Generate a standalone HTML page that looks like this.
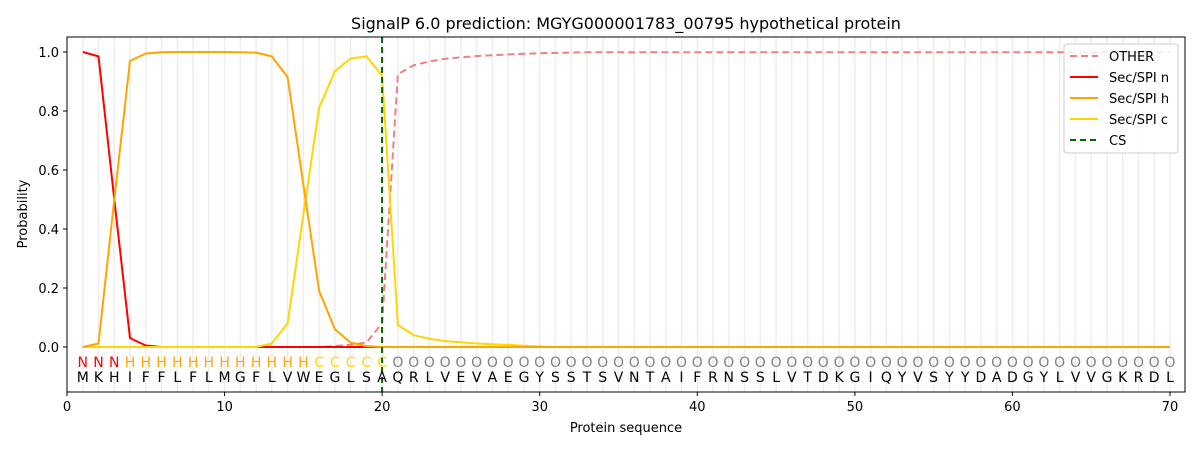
<!DOCTYPE html>
<html><head><meta charset="utf-8"><style>body{margin:0;background:#fff}svg{display:block;font-family:"DejaVu Sans","Liberation Sans",sans-serif}</style></head><body>
<svg width="1200" height="450" viewBox="0 0 1200 450" xmlns="http://www.w3.org/2000/svg">
<rect width="1200" height="450" fill="#fff"/>
<text x="626" y="29" font-size="16" text-anchor="middle" fill="#000">SignalP 6.0 prediction: MGYG000001783_00795 hypothetical protein</text>
<line x1="82.01" x2="1171" y1="214.5" y2="214.5" stroke="#000" stroke-opacity="0.07" stroke-width="355" stroke-dasharray="1.5 14.257"/>
<g fill="none" stroke-width="2" stroke-linejoin="round">
<polyline id="po" stroke="#f08080" stroke-dasharray="7,4" points=""/>
<polyline id="pn" stroke="#ff0000" points=""/>
<polyline id="pc" stroke="#ffd700" points=""/>
<polyline id="ph" stroke="#ffa500" points=""/>
</g>
<script>
(function(){
function X(i){return 67+15.757*i}function Y(p){return 347-295*p}
var n=[1,0.985,0.5,0.03,0.005],h=[0,0.012,0.5,0.97,0.995,0.999,1,1,1,1,0.999,0.998,0.985,0.915,0.55,0.19,0.06,0.015,0.003],
c=[0,0,0,0,0,0,0,0,0,0,0,0,0.012,0.08,0.45,0.81,0.935,0.978,0.985,0.92,0.075,0.04,0.028,0.02,0.016,0.012,0.009,0.007,0.004,0.002],
o=[0,0,0,0,0,0,0,0,0,0,0,0,0,0,0,0,0.003,0.008,0.015,0.08,0.925,0.955,0.968,0.977,0.982,0.986,0.989,0.992,0.994,0.996,0.997,0.998];
function pts(a,d){var s='';for(var i=1;i<=70;i++){var v=i<=a.length?a[i-1]:d;s+=X(i).toFixed(1)+','+Y(v).toFixed(1)+' ';}return s}
document.getElementById('pn').setAttribute('points',pts(n,0));
document.getElementById('ph').setAttribute('points',pts(h,0));
document.getElementById('pc').setAttribute('points',pts(c,0));
document.getElementById('po').setAttribute('points',pts(o,0.999));
})();
</script>
<line x1="382.1" x2="382.1" y1="37" y2="392" stroke="#006400" stroke-width="2" stroke-dasharray="6,4"/>
<rect x="67" y="37" width="1118" height="355" fill="none" stroke="#000" stroke-width="1"/>
<g font-size="13" fill="#000">
<g stroke="#000"><line x1="63" x2="67" y1="347" y2="347"/><line x1="63" x2="67" y1="288" y2="288"/><line x1="63" x2="67" y1="229" y2="229"/><line x1="63" x2="67" y1="170" y2="170"/><line x1="63" x2="67" y1="111" y2="111"/><line x1="63" x2="67" y1="52" y2="52"/>
<line x1="67" x2="67" y1="392" y2="396"/><line x1="224.6" x2="224.6" y1="392" y2="396"/><line x1="382.1" x2="382.1" y1="392" y2="396"/><line x1="539.7" x2="539.7" y1="392" y2="396"/><line x1="697.3" x2="697.3" y1="392" y2="396"/><line x1="854.9" x2="854.9" y1="392" y2="396"/><line x1="1012.4" x2="1012.4" y1="392" y2="396"/><line x1="1170" x2="1170" y1="392" y2="396"/></g>
<g text-anchor="end"><text x="59" y="352">0.0</text><text x="59" y="293">0.2</text><text x="59" y="234">0.4</text><text x="59" y="175">0.6</text><text x="59" y="116">0.8</text><text x="59" y="57">1.0</text></g>
<g text-anchor="middle"><text x="67" y="411">0</text><text x="224.6" y="411">10</text><text x="382.1" y="411">20</text><text x="539.7" y="411">30</text><text x="697.3" y="411">40</text><text x="854.9" y="411">50</text><text x="1012.4" y="411">60</text><text x="1170" y="411">70</text></g>
<text x="626" y="432" text-anchor="middle">Protein sequence</text>
<text transform="translate(27,214) rotate(-90)" text-anchor="middle">Probability</text>
</g>
<g font-size="14" text-anchor="middle">
<text y="367" fill="#ff0000" x="82.8 98.5 114.3">NNN</text>
<text y="367" fill="#ffa500" x="130.0 145.8 161.5 177.3 193.1 208.8 224.6 240.3 256.1 271.8 287.6 303.4">HHHHHHHHHHHH</text>
<text y="367" fill="#ffd700" x="319.1 334.9 350.6 366.4 382.1">CCCCC</text>
<text y="367" fill="#808080" x="397.9 413.7 429.4 445.2 460.9 476.7 492.4 508.2 524.0 539.7 555.5 571.2 587.0 602.7 618.5 634.3 650.0 665.8 681.5 697.3 713.0 728.8 744.6 760.3 776.1 791.8 807.6 823.3 839.1 854.9 870.6 886.4 902.1 917.9 933.6 949.4 965.2 980.9 996.7 1012.4 1028.2 1043.9 1059.7 1075.5 1091.2 1107.0 1122.7 1138.5 1154.2 1170.0">OOOOOOOOOOOOOOOOOOOOOOOOOOOOOOOOOOOOOOOOOOOOOOOOOO</text>
<text y="382" fill="#000" x="82.8 98.5 114.3 130.0 145.8 161.5 177.3 193.1 208.8 224.6 240.3 256.1 271.8 287.6 303.4 319.1 334.9 350.6 366.4 382.1 397.9 413.7 429.4 445.2 460.9 476.7 492.4 508.2 524.0 539.7 555.5 571.2 587.0 602.7 618.5 634.3 650.0 665.8 681.5 697.3 713.0 728.8 744.6 760.3 776.1 791.8 807.6 823.3 839.1 854.9 870.6 886.4 902.1 917.9 933.6 949.4 965.2 980.9 996.7 1012.4 1028.2 1043.9 1059.7 1075.5 1091.2 1107.0 1122.7 1138.5 1154.2 1170.0">MKHIFFLFLMGFLVWEGLSAQRLVEVAEGYSSTSVNTAIFRNSSLVTDKGIQYVSYYDADGYLVVGKRDL</text>
</g>
<g>
<rect x="1064" y="44" width="114" height="109" rx="3" fill="#fff" fill-opacity="0.85" stroke="#ccc"/>
<g stroke-width="2"><line x1="1070" x2="1098" y1="56" y2="56" stroke="#f08080" stroke-dasharray="7,4"/><line x1="1070" x2="1098" y1="77" y2="77" stroke="#ff0000"/><line x1="1070" x2="1098" y1="98" y2="98" stroke="#ffa500"/><line x1="1070" x2="1098" y1="119" y2="119" stroke="#ffd700"/><line x1="1070" x2="1098" y1="140" y2="140" stroke="#006400" stroke-dasharray="6,4"/></g>
<g font-size="13" fill="#000"><text x="1109" y="61">OTHER</text><text x="1109" y="82">Sec/SPI n</text><text x="1109" y="103">Sec/SPI h</text><text x="1109" y="124">Sec/SPI c</text><text x="1109" y="145">CS</text></g>
</g>
</svg>
</body></html>
